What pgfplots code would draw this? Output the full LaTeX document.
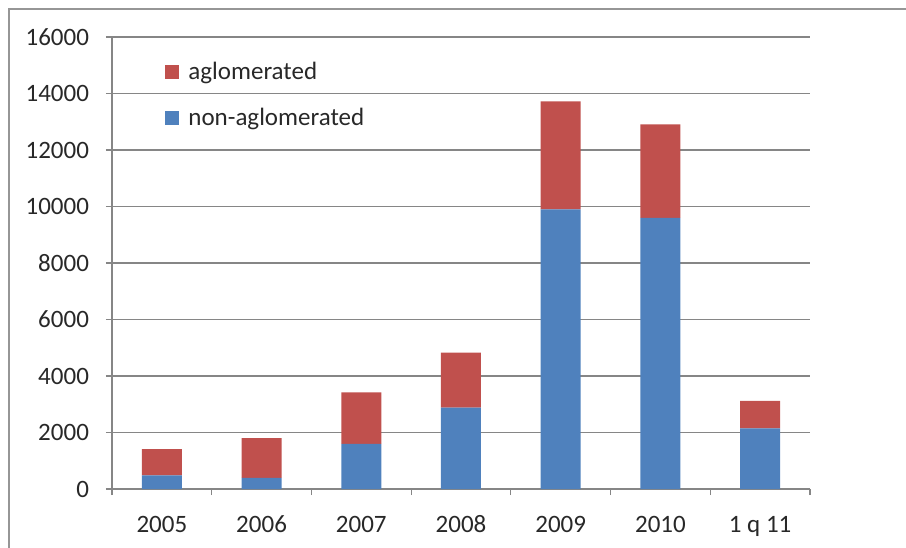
\documentclass[border=0pt]{standalone}
\usepackage{pgfplots}
\pgfplotsset{compat=1.18}
\usepackage{fontspec}
\setmainfont{Carlito}
\definecolor{xlblue}{RGB}{79,129,189}
\definecolor{xlred}{RGB}{192,80,77}
\definecolor{xlgrid}{RGB}{134,134,134}
\definecolor{xltext}{RGB}{40,40,40}
\begin{document}
\begin{tikzpicture}
\path[use as bounding box] (-56pt,-29pt) rectangle (397pt,244.5pt);
\draw[color={rgb,255:red,150;green,150;blue,150}, line width=1pt] (-51.5pt,-40pt) -- (-51.5pt,240pt) -- (420pt,240pt);
\begin{axis}[
  at={(0,0)}, anchor=south west,
  scale only axis, width=349pt, height=226pt,
  ybar stacked, bar width=20pt,
  xmin=-0.5, xmax=6.5, ymin=0, ymax=16000,
  xtick={0,...,6},
  xticklabels={2005,2006,2007,2008,2009,2010,1 q 11},
  minor xtick={-0.5,0.5,...,6.5},
  major x tick style={draw=none},
  minor x tick style={xlgrid, line width=0.6pt},
  minor tick length=3pt,
  ytick={0,2000,...,16000},
  y tick style={xlgrid, line width=0.6pt},
  major tick length=3pt,
  tick align=outside,
  tick pos=left,
  ymajorgrids, grid style={xlgrid, line width=0.6pt},
  axis x line*=bottom, axis y line*=left,
  axis line style={xlgrid, line width=0.6pt},
  /pgf/number format/assume math mode=true,
  scaled y ticks=false,
  yticklabel={\pgfmathprintnumber[fixed,1000 sep={}]{\tick}},
  ticklabel style={font=\fontsize{12.5pt}{15pt}\selectfont, text=xltext},
  yticklabel style={xshift=-5pt},
  xticklabel style={yshift=-6pt, text height=9pt, text depth=2.5pt},
  reverse legend,
  legend style={draw=none, fill=none, at={(0.076,0.955)}, anchor=north west,
    font=\fontsize{12.5pt}{15pt}\selectfont, text=xltext,
    row sep=9pt, column sep=2.5pt, inner sep=0pt},
  legend cell align=left,
  legend image code/.code={\fill[#1] (0pt,-3.5pt) rectangle (7pt,3.5pt);},
]
\addplot[fill=xlblue, draw=none] coordinates {(0,480) (1,390) (2,1600) (3,2880) (4,9900) (5,9600) (6,2150)};
\addplot[fill=xlred, draw=none] coordinates {(0,930) (1,1410) (2,1820) (3,1950) (4,3820) (5,3310) (6,970)};
\legend{non-aglomerated, aglomerated}
\end{axis}
\end{tikzpicture}
\end{document}
